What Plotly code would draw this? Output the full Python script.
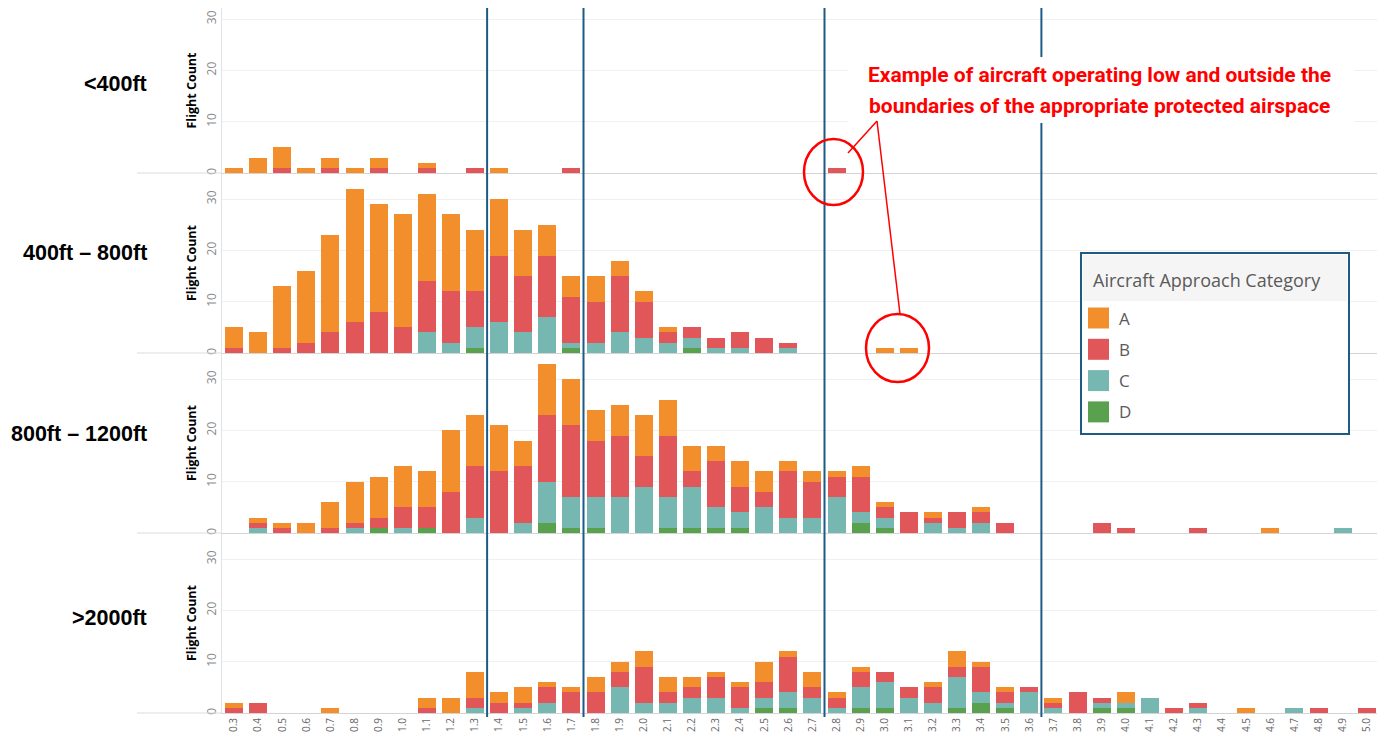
import plotly.graph_objects as go
from plotly.subplots import make_subplots

# ---------------- DATA ----------------
CATEGORIES = ["0.3", "0.4", "0.5", "0.6", "0.7", "0.8", "0.9", "1.0", "1.1", "1.2",
              "1.3", "1.4", "1.5", "1.6", "1.7", "1.8", "1.9", "2.0", "2.1", "2.2",
              "2.3", "2.4", "2.5", "2.6", "2.7", "2.8", "2.9", "3.0", "3.1", "3.2",
              "3.3", "3.4", "3.5", "3.6", "3.7", "3.8", "3.9", "4.0", "4.1", "4.2",
              "4.3", "4.4", "4.5", "4.6", "4.7", "4.8", "4.9", "5.0"]

BANDS = ["<400ft", "400ft – 800ft", "800ft – 1200ft", ">2000ft"]
SERIES = ["A", "B", "C", "D"]
COLORS = {"A": "#F28E2B", "B": "#E15759", "C": "#76B7B2", "D": "#59A14F"}

# <400ft
LOW_A = [1, 3, 4, 1, 2, 1, 2, 0, 1, 0,
         0, 1, 0, 0, 0, 0, 0, 0, 0, 0,
         0, 0, 0, 0, 0, 0, 0, 0, 0, 0,
         0, 0, 0, 0, 0, 0, 0, 0, 0, 0,
         0, 0, 0, 0, 0, 0, 0, 0]
LOW_B = [0, 0, 1, 0, 1, 0, 1, 0, 1, 0,
         1, 0, 0, 0, 1, 0, 0, 0, 0, 0,
         0, 0, 0, 0, 0, 1, 0, 0, 0, 0,
         0, 0, 0, 0, 0, 0, 0, 0, 0, 0,
         0, 0, 0, 0, 0, 0, 0, 0]
LOW_C = [0, 0, 0, 0, 0, 0, 0, 0, 0, 0,
         0, 0, 0, 0, 0, 0, 0, 0, 0, 0,
         0, 0, 0, 0, 0, 0, 0, 0, 0, 0,
         0, 0, 0, 0, 0, 0, 0, 0, 0, 0,
         0, 0, 0, 0, 0, 0, 0, 0]
LOW_D = [0, 0, 0, 0, 0, 0, 0, 0, 0, 0,
         0, 0, 0, 0, 0, 0, 0, 0, 0, 0,
         0, 0, 0, 0, 0, 0, 0, 0, 0, 0,
         0, 0, 0, 0, 0, 0, 0, 0, 0, 0,
         0, 0, 0, 0, 0, 0, 0, 0]

# 400ft - 800ft
MID_A = [4, 4, 12, 14, 19, 26, 21, 22, 17, 15,
         12, 11, 9, 6, 4, 5, 3, 2, 1, 0,
         0, 0, 0, 0, 0, 0, 0, 1, 1, 0,
         0, 0, 0, 0, 0, 0, 0, 0, 0, 0,
         0, 0, 0, 0, 0, 0, 0, 0]
MID_B = [1, 0, 1, 2, 4, 6, 8, 5, 10, 10,
         7, 13, 11, 12, 9, 8, 11, 7, 2, 2,
         2, 3, 3, 1, 0, 0, 0, 0, 0, 0,
         0, 0, 0, 0, 0, 0, 0, 0, 0, 0,
         0, 0, 0, 0, 0, 0, 0, 0]
MID_C = [0, 0, 0, 0, 0, 0, 0, 0, 4, 2,
         4, 6, 4, 7, 1, 2, 4, 3, 2, 2,
         1, 1, 0, 1, 0, 0, 0, 0, 0, 0,
         0, 0, 0, 0, 0, 0, 0, 0, 0, 0,
         0, 0, 0, 0, 0, 0, 0, 0]
MID_D = [0, 0, 0, 0, 0, 0, 0, 0, 0, 0,
         1, 0, 0, 0, 1, 0, 0, 0, 0, 1,
         0, 0, 0, 0, 0, 0, 0, 0, 0, 0,
         0, 0, 0, 0, 0, 0, 0, 0, 0, 0,
         0, 0, 0, 0, 0, 0, 0, 0]

# 800ft - 1200ft
HIGH_A = [0, 1, 1, 2, 5, 8, 8, 8, 7, 12,
          10, 9, 5, 10, 9, 6, 6, 8, 7, 5,
          3, 5, 4, 2, 2, 1, 2, 1, 0, 1,
          0, 1, 0, 0, 0, 0, 0, 0, 0, 0,
          0, 0, 0, 1, 0, 0, 0, 0]
HIGH_B = [0, 1, 1, 0, 1, 1, 2, 4, 4, 8,
          10, 12, 11, 13, 14, 11, 12, 6, 12, 3,
          9, 5, 3, 9, 7, 4, 7, 2, 4, 1,
          3, 2, 2, 0, 0, 0, 2, 1, 0, 0,
          1, 0, 0, 0, 0, 0, 0, 0]
HIGH_C = [0, 1, 0, 0, 0, 1, 0, 1, 0, 0,
          3, 0, 2, 8, 6, 6, 7, 9, 6, 8,
          4, 3, 5, 3, 3, 7, 2, 2, 0, 2,
          1, 2, 0, 0, 0, 0, 0, 0, 0, 0,
          0, 0, 0, 0, 0, 0, 1, 0]
HIGH_D = [0, 0, 0, 0, 0, 0, 1, 0, 1, 0,
          0, 0, 0, 2, 1, 1, 0, 0, 1, 1,
          1, 1, 0, 0, 0, 0, 2, 1, 0, 0,
          0, 0, 0, 0, 0, 0, 0, 0, 0, 0,
          0, 0, 0, 0, 0, 0, 0, 0]

# >2000ft
TOP_A = [1, 0, 0, 0, 1, 0, 0, 0, 2, 3,
         5, 2, 3, 1, 1, 3, 2, 3, 3, 2,
         1, 1, 4, 1, 3, 1, 1, 0, 0, 1,
         3, 1, 1, 0, 1, 0, 0, 2, 0, 0,
         0, 0, 1, 0, 0, 0, 0, 0]
TOP_B = [1, 2, 0, 0, 0, 0, 0, 0, 1, 0,
         2, 2, 1, 3, 4, 4, 3, 7, 2, 2,
         4, 4, 3, 7, 2, 2, 3, 2, 2, 3,
         2, 5, 2, 1, 1, 4, 1, 0, 0, 1,
         1, 0, 0, 0, 0, 1, 0, 1]
TOP_C = [0, 0, 0, 0, 0, 0, 0, 0, 0, 0,
         1, 0, 1, 2, 0, 0, 5, 2, 2, 3,
         3, 1, 2, 3, 3, 1, 4, 5, 3, 2,
         6, 2, 1, 4, 1, 0, 1, 1, 3, 0,
         1, 0, 0, 0, 1, 0, 0, 0]
TOP_D = [0, 0, 0, 0, 0, 0, 0, 0, 0, 0,
         0, 0, 0, 0, 0, 0, 0, 0, 0, 0,
         0, 0, 1, 1, 0, 0, 1, 1, 0, 0,
         1, 2, 1, 0, 0, 0, 1, 1, 0, 0,
         0, 0, 0, 0, 0, 0, 0, 0]

PANELS = [
    {"A": LOW_A, "B": LOW_B, "C": LOW_C, "D": LOW_D},
    {"A": MID_A, "B": MID_B, "C": MID_C, "D": MID_D},
    {"A": HIGH_A, "B": HIGH_B, "C": HIGH_C, "D": HIGH_D},
    {"A": TOP_A, "B": TOP_B, "C": TOP_C, "D": TOP_D},
]

# boundaries drawn between these category pairs
BOUNDARIES = [("1.3", "1.4"), ("1.7", "1.8"), ("2.7", "2.8"), ("3.6", "3.7")]

LEGEND_TITLE = "Aircraft Approach Category"
NOTE_LINES = ["Example of aircraft operating low and outside the",
              "boundaries of the appropriate protected airspace"]

# ---------------- LAYOUT GEOMETRY (pixels) ----------------
W, H = 1377, 732
PL, PR, PT, PB = 222, 1377, 0, 713
PX_PER_UNIT = 5.13
PANEL_PX = [(8, 173), (173, 353), (353, 533), (533, 713)]


def fx(x):
    return (x - PL) / (PR - PL)


def fy(y):
    return (PB - y) / (PB - PT)


fig = make_subplots(rows=4, cols=1, shared_xaxes=True, vertical_spacing=0)

for r, data in enumerate(PANELS, start=1):
    for s in ["D", "C", "B", "A"]:
        fig.add_trace(
            go.Bar(x=CATEGORIES, y=data[s], name=s,
                   marker=dict(color=COLORS[s], line=dict(width=0)),
                   showlegend=False, legendgroup=s,
                   hovertemplate="%{x}: %{y}<extra>" + s + "</extra>"),
            row=r, col=1)

fig.update_layout(
    width=W, height=H,
    margin=dict(l=PL, r=W - PR, t=PT, b=H - PB),
    barmode="stack", bargap=0.25,
    paper_bgcolor="white", plot_bgcolor="white",
    template="plotly_white",
    font=dict(family="Open Sans", color="#555"),
)

for r in range(1, 5):
    top, bot = PANEL_PX[r - 1]
    yname = "yaxis" if r == 1 else f"yaxis{r}"
    xname = "xaxis" if r == 1 else f"xaxis{r}"
    fig.layout[yname].update(
        domain=[fy(bot), fy(top)],
        range=[0, (bot - top) / PX_PER_UNIT],
        tickvals=[0, 10, 20, 30], tickangle=-90,
        tickfont=dict(size=12, color="#8a8a8a", family="Open Sans"),
        showgrid=True, gridcolor="#f0f0f0", gridwidth=1,
        zeroline=False, showline=True, linecolor="#e2e2e2", linewidth=1,
        ticks="", automargin=False, fixedrange=True,
        title=dict(text="Flight Count", standoff=3,
                   font=dict(size=12.5, color="black", family="Open Sans", weight="bold")),
    )
    fig.layout[xname].update(
        type="category", range=[-0.5, -0.5 + (PR - PL) / 24.1],
        showgrid=False, zeroline=False, showline=True,
        linecolor="#d4d4d4", linewidth=1, ticks="",
        showticklabels=(r == 4), tickangle=-90,
        tickfont=dict(size=10, color="#666", family="Open Sans"),
        automargin=False, fixedrange=True,
    )

shapes = []
annotations = []

# left extension of panel baselines
for top, bot in PANEL_PX:
    shapes.append(dict(type="line", xref="paper", yref="paper",
                       x0=fx(137), x1=fx(PL), y0=fy(bot), y1=fy(bot),
                       line=dict(color="#dcdcdc", width=1)))

# vertical boundary lines
for a, b in BOUNDARIES:
    xpos = (CATEGORIES.index(a) + CATEGORIES.index(b)) / 2
    shapes.append(dict(type="line", xref="x4", yref="paper",
                       x0=xpos, x1=xpos, y0=fy(717), y1=fy(8),
                       line=dict(color="#1d5b87", width=2), layer="above"))

# white box behind note
shapes.append(dict(type="rect", xref="paper", yref="paper",
                   x0=fx(848), x1=fx(1354), y0=fy(123), y1=fy(57),
                   fillcolor="white", line=dict(width=0), layer="above"))

# red pointer lines and circles
shapes.append(dict(type="line", xref="paper", yref="paper",
                   x0=fx(877), y0=fy(121), x1=fx(848), y1=fy(153),
                   line=dict(color="#ff0000", width=1.5), layer="above"))
shapes.append(dict(type="line", xref="paper", yref="paper",
                   x0=fx(877), y0=fy(121), x1=fx(900), y1=fy(314),
                   line=dict(color="#ff0000", width=1.5), layer="above"))
shapes.append(dict(type="circle", xref="paper", yref="paper",
                   x0=fx(804), x1=fx(863), y0=fy(205), y1=fy(139),
                   line=dict(color="#ff0000", width=2.5), layer="above"))
shapes.append(dict(type="circle", xref="paper", yref="paper",
                   x0=fx(866), x1=fx(929), y0=fy(382), y1=fy(314),
                   line=dict(color="#ff0000", width=2.5), layer="above"))

# note text
for i, line in enumerate(NOTE_LINES):
    annotations.append(dict(xref="paper", yref="paper", x=fx(1099), y=fy(75 + 31 * i),
                            xanchor="center", yanchor="middle", showarrow=False,
                            text=line,
                            font=dict(size=21, color="#ff0000", family="Roboto", weight="bold")))

# band labels
band_y = [84, 253, 434, 618]
for lab, yy in zip(BANDS, band_y):
    annotations.append(dict(xref="paper", yref="paper", x=fx(149), y=fy(yy),
                            xanchor="right", yanchor="middle", showarrow=False,
                            text=lab,
                            font=dict(size=21.5, color="black", family="Liberation Sans", weight="bold")))

# custom legend box
shapes.append(dict(type="rect", xref="paper", yref="paper",
                   x0=fx(1081), x1=fx(1349), y0=fy(434), y1=fy(253),
                   fillcolor="white", line=dict(color="#1f5a84", width=2), layer="above"))
shapes.append(dict(type="rect", xref="paper", yref="paper",
                   x0=fx(1083), x1=fx(1347), y0=fy(301), y1=fy(255),
                   fillcolor="#f5f5f5", line=dict(width=0), layer="above"))
annotations.append(dict(xref="paper", yref="paper", x=fx(1091), y=fy(280),
                        xanchor="left", yanchor="middle", showarrow=False,
                        text=LEGEND_TITLE,
                        font=dict(size=18, color="#5a5a5a", family="Open Sans")))
for i, s in enumerate(SERIES):
    cy = 318 + 31.3 * i
    shapes.append(dict(type="rect", xref="paper", yref="paper",
                       x0=fx(1088), x1=fx(1109), y0=fy(cy + 10.5), y1=fy(cy - 10.5),
                       fillcolor=COLORS[s], line=dict(width=0), layer="above"))
    annotations.append(dict(xref="paper", yref="paper", x=fx(1117), y=fy(cy),
                            xanchor="left", yanchor="middle", showarrow=False,
                            text=s,
                            font=dict(size=17, color="#5a5a5a", family="Open Sans")))

fig.update_layout(shapes=shapes, annotations=annotations)

fig.write_html("out.html",
               config={"displayModeBar": False},
               post_script="document.body.style.margin='0px';document.body.style.overflow='hidden';")
